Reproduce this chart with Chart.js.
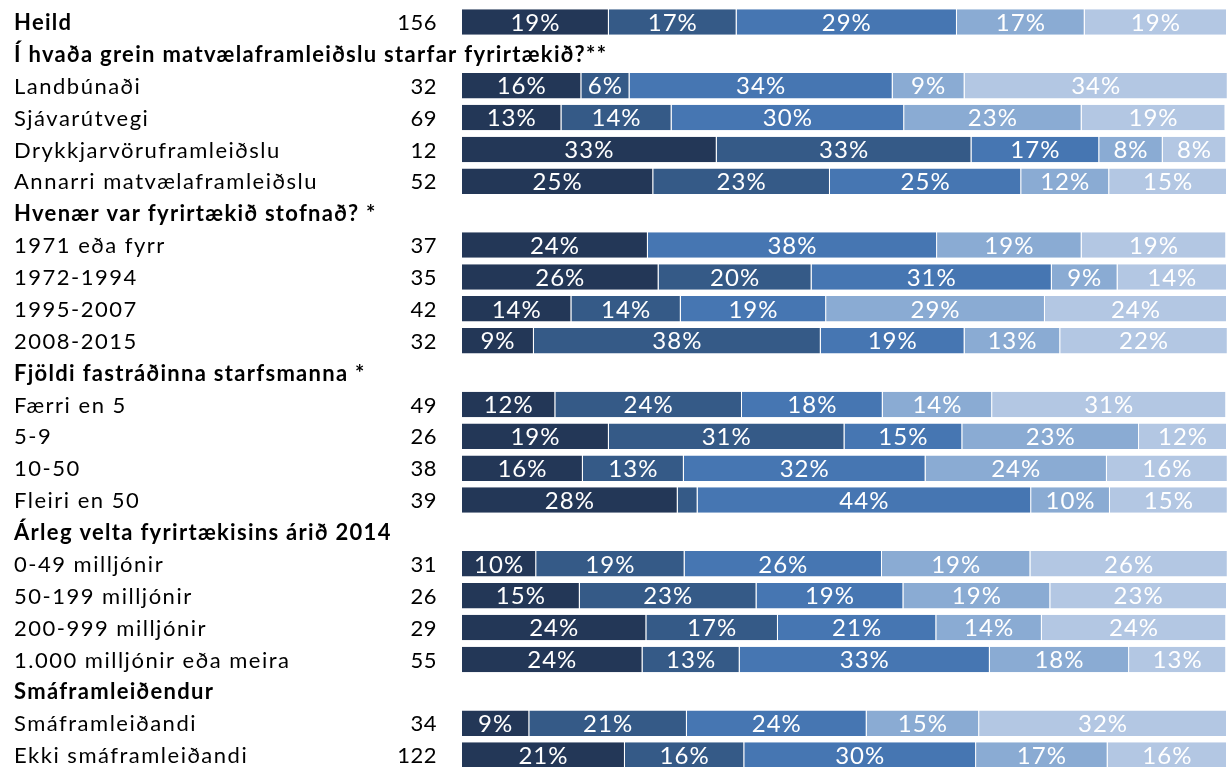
<!DOCTYPE html>
<html>
<head>
<meta charset="utf-8">
<script src="https://cdn.jsdelivr.net/npm/chart.js@4"></script>
<style>
  html, body { margin: 0; padding: 0; background: #fff; overflow: hidden; }
  #wrap { position: relative; width: 1227px; height: 771px; }
</style>
</head>
<body>
<div id="wrap"><canvas id="likert-chart"></canvas></div>
<script>
// Row labels (header rows have no bars and no N)
var categories = [
  "Heild",
  "Í hvaða grein matvælaframleiðslu starfar fyrirtækið?**",
  "Landbúnaði", "Sjávarútvegi", "Drykkjarvöruframleiðslu", "Annarri matvælaframleiðslu",
  "Hvenær var fyrirtækið stofnað? *",
  "1971 eða fyrr", "1972-1994", "1995-2007", "2008-2015",
  "Fjöldi fastráðinna starfsmanna *",
  "Færri en 5", "5-9", "10-50", "Fleiri en 50",
  "Árleg velta fyrirtækisins árið 2014",
  "0-49 milljónir", "50-199 milljónir", "200-999 milljónir", "1.000 milljónir eða meira",
  "Smáframleiðendur",
  "Smáframleiðandi", "Ekki smáframleiðandi"
];

// Rows drawn in bold
var boldRows = [0, 1, 6, 11, 16, 21];

// Number of respondents
var counts = [156, null, 32, 69, 12, 52, null, 37, 35, 42, 32, null, 49, 26, 38, 39, null, 31, 26, 29, 55, null, 34, 122];

// Share (%) in each of the five answer groups, darkest first
var s1 = [19.2, null, 15.6, 13.0, 33.3, 25.0, null, 24.3, 25.7, 14.3, 9.4, null, 12.2, 19.2, 15.8, 28.2, null, 9.7, 15.4, 24.1, 23.6, null, 8.8, 21.3];
var s2 = [16.7, null, 6.3, 14.4, 33.3, 23.1, null, 0, 20.0, 14.3, 37.5, null, 24.4, 30.8, 13.2, 2.6, null, 19.4, 23.1, 17.2, 12.7, null, 20.6, 15.6];
var s3 = [28.8, null, 34.4, 30.4, 16.7, 25.0, null, 37.8, 31.4, 19.0, 18.8, null, 18.4, 15.4, 31.6, 43.6, null, 25.8, 19.2, 20.7, 32.7, null, 23.5, 30.3];
var s4 = [16.7, null, 9.4, 23.2, 8.3, 11.5, null, 18.9, 8.6, 28.6, 12.5, null, 14.3, 23.1, 23.7, 10.3, null, 19.4, 19.2, 13.8, 18.2, null, 14.7, 17.2];
var s5 = [18.6, null, 34.4, 18.8, 8.3, 15.4, null, 18.9, 14.3, 23.8, 21.9, null, 30.6, 11.5, 15.8, 15.4, null, 25.8, 23.1, 24.1, 12.7, null, 32.4, 15.6];

var seriesNames = ["1", "2", "3", "4", "5"];
var colors = ["#233757", "#355a87", "#4676b2", "#8aabd3", "#b3c7e3"];

var FONT = "Lato";
var canvas = document.getElementById("likert-chart");

var datasets = [s1, s2, s3, s4, s5].map(function (values, i) {
  return {
    label: seriesNames[i],
    data: values,
    backgroundColor: colors[i],
    borderColor: "rgba(255,255,255,0.5)",
    borderWidth: { left: 0, right: 1, top: 0, bottom: 0 },
    borderSkipped: false,
    barPercentage: 0.8,
    categoryPercentage: 1.0
  };
});

// Draws row labels, the N column and the % inside segments
var textPlugin = {
  id: "rowText",
  afterDatasetsDraw: function (chart) {
    var ctx = chart.ctx;
    var yScale = chart.scales.y;
    ctx.save();
    ctx.textBaseline = "middle";

    // percentages
    ctx.fillStyle = "#ffffff";
    ctx.textAlign = "center";
    ctx.font = "24px " + FONT;
    ctx.letterSpacing = "1px";
    chart.data.datasets.forEach(function (ds, di) {
      var meta = chart.getDatasetMeta(di);
      meta.data.forEach(function (el, i) {
        var v = ds.data[i];
        if (v == null || v < 5) return;
        var cx = (el.x + el.base) / 2;
        ctx.fillText(Math.round(v) + "%", cx, el.y + 1);
      });
    });

    // row labels
    ctx.fillStyle = "#000000";
    ctx.textAlign = "left";
    categories.forEach(function (lab, i) {
      var bold = boldRows.indexOf(i) >= 0;
      ctx.font = (bold ? "bold " : "") + "22px " + FONT;
      ctx.letterSpacing = bold ? "1.3px" : "1.5px";
      ctx.fillText(lab, 14, yScale.getPixelForValue(i) + 1);
    });

    // N column
    ctx.textAlign = "right";
    ctx.font = "22px " + FONT;
    ctx.letterSpacing = "0.5px";
    counts.forEach(function (n, i) {
      if (n == null) return;
      ctx.fillText(String(n), 437, yScale.getPixelForValue(i) + 1);
    });
    ctx.restore();
  }
};

var chart = new Chart(canvas, {
  type: "bar",
  data: { labels: categories, datasets: datasets },
  options: {
    indexAxis: "y",
    responsive: true,
    maintainAspectRatio: false,
    animation: false,
    layout: { padding: { left: 462, top: 6, right: 0, bottom: 0 } },
    plugins: { legend: { display: false }, tooltip: { enabled: false } },
    scales: {
      x: { stacked: true, min: 0, max: 100, display: false },
      y: { stacked: true, display: false }
    }
  },
  plugins: [textPlugin]
});
</script>
</body>
</html>
